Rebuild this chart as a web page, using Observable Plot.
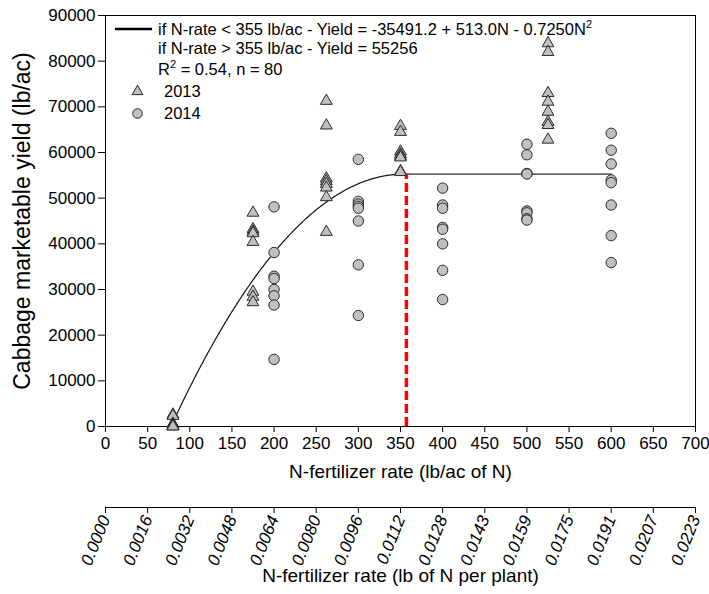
<!DOCTYPE html>
<html><head><meta charset="utf-8">
<script src="https://cdn.jsdelivr.net/npm/d3@7"></script>
<script src="https://cdn.jsdelivr.net/npm/@observablehq/plot@0.6"></script>
<style>
body{margin:0;background:#fff;}
#chart{width:709px;height:594px;}
svg text{font-family:"Liberation Sans",Arial,sans-serif;}
</style>
</head><body><div id="chart"></div>
<script>
// ---- data ----
const rates2013 = [80, 175, 262, 350, 525];
const yields2013 = [
  [2600, 2300, 600, 400, 200, 100, 0, 0],
  [46800, 43200, 42700, 42300, 40400, 29500, 28400, 27200],
  [71300, 65900, 54300, 53700, 53100, 52300, 50200, 42600],
  [65800, 64500, 60200, 59600, 59200, 58900, 55900, 55700],
  [83900, 82000, 73000, 71100, 68900, 66700, 66000, 62800]
];
const rates2014 = [200, 300, 400, 500, 600];
const yields2014 = [
  [48100, 38100, 32900, 32400, 30000, 28600, 26600, 14700],
  [58500, 49300, 48700, 48200, 47800, 45000, 35400, 24300],
  [52200, 48500, 47800, 43600, 43200, 40000, 34200, 27800],
  [61800, 59500, 55400, 55300, 47200, 46800, 45500, 45200],
  [64200, 60500, 57500, 54000, 53400, 48500, 41800, 35900]
];
const xTicks = [0, 50, 100, 150, 200, 250, 300, 350, 400, 450, 500, 550, 600, 650, 700];
const yTicks = [0, 10000, 20000, 30000, 40000, 50000, 60000, 70000, 80000, 90000];
const perPlantLabels = ["0.0000","0.0016","0.0032","0.0048","0.0064","0.0080","0.0096","0.0112","0.0128","0.0143","0.0159","0.0175","0.0191","0.0207","0.0223"];
// fitted model (from legend)
const b0 = -35491.2, b1 = 513.0, b2 = -0.7250;
const curveStart = 84, joinRate = 355, plateauEnd = 600, plateau = 55256;
const jointMarker = 357;

// ---- derived tables ----
const pts2013 = rates2013.flatMap((r, i) => yields2013[i].map(v => ({x: r, y: v})));
const pts2014 = rates2014.flatMap((r, i) => yields2014[i].map(v => ({x: r, y: v})));
const curve = d3.range(curveStart, joinRate + 0.001, 1).map(n => ({x: n, y: b0 + b1 * n + b2 * n * n}));
const plateauLine = [{x: joinRate, y: plateau}, {x: plateauEnd, y: plateau}];
const perPlant = new Map(xTicks.map((t, i) => [t, perPlantLabels[i]]));

const FONT = "Liberation Sans, Arial, sans-serif";
const fill = "#c0c0c0", stroke = "#2a2a2a";

const plot = Plot.plot({
  width: 709, height: 594,
  marginLeft: 105, marginRight: 14, marginTop: 15, marginBottom: 168,
  style: {fontFamily: FONT, color: "#000", background: "#fff"},
  x: {domain: [0, 700]},
  y: {domain: [0, 90000]},
  marks: [
    Plot.frame({stroke: "#000", strokeWidth: 1}),
    Plot.axisY({ticks: yTicks, tickFormat: d => String(d), tickSize: 7, tickPadding: 3, fontSize: 17, label: null}),
    Plot.axisX({ticks: xTicks, tickFormat: d => String(d), tickSize: 6, tickPadding: 4, fontSize: 17, label: null}),
    Plot.ruleY([0], {x1: () => 0, x2: () => 700, dy: 81, stroke: "#000"}),
    Plot.axisX({ticks: xTicks, anchor: "bottom", dy: 81, tickSize: 6, tickPadding: 3, tickRotate: -68,
      tickFormat: d => perPlant.get(d), fontSize: 17, fontStyle: "italic", label: null}),
    Plot.text(["Cabbage marketable yield (lb/ac)"], {frameAnchor: "left", textAnchor: "middle", rotate: -90, dx: -83, fontSize: 23, fill: "#000"}),
    Plot.text(["N-fertilizer rate (lb/ac of N)"], {frameAnchor: "bottom", dy: 51, fontSize: 19, fill: "#000"}),
    Plot.text(["N-fertilizer rate (lb of N per plant)"], {frameAnchor: "bottom", dy: 155, fontSize: 19, fill: "#000"}),
    Plot.line(curve, {x: "x", y: "y", stroke: "#111", strokeWidth: 1.2}),
    Plot.line(plateauLine, {x: "x", y: "y", stroke: "#666", strokeWidth: 1.6}),
    Plot.ruleX([jointMarker], {y1: () => 0, y2: () => plateau, stroke: "#ff0000", strokeWidth: 3.5, strokeDasharray: "9,4"}),
    Plot.dot(pts2013, {x: "x", y: "y", symbol: "triangle", r: 4.4, fill, stroke, strokeWidth: 1}),
    Plot.dot(pts2014, {x: "x", y: "y", r: 5.2, fill, stroke, strokeWidth: 1}),
    // legend symbols
    Plot.dot([0], {frameAnchor: "top-left", dx: 32, dy: 76, symbol: "triangle", r: 4, fill, stroke, strokeWidth: 1}),
    Plot.dot([0], {frameAnchor: "top-left", dx: 32, dy: 98, r: 4.8, fill, stroke, strokeWidth: 1})
  ]
});
document.getElementById("chart").appendChild(plot);

// ---- legend text (with superscripts) ----
const svg = d3.select(plot);
const g = svg.append("g").attr("font-family", FONT).attr("font-size", 16.5).attr("fill", "#000").attr("text-anchor", "start");
g.append("line").attr("x1", 115).attr("x2", 152).attr("y1", 29).attr("y2", 29).attr("stroke", "#000").attr("stroke-width", 2.5);
const l1 = g.append("text").attr("x", 158).attr("y", 35);
l1.append("tspan").text("if N-rate < 355 lb/ac - Yield = -35491.2 + 513.0N - 0.7250N");
l1.append("tspan").attr("font-size", 11).attr("dy", -7).text("2");
g.append("text").attr("x", 158).attr("y", 54).text("if N-rate > 355 lb/ac - Yield = 55256");
const l3 = g.append("text").attr("x", 158).attr("y", 75);
l3.append("tspan").text("R");
l3.append("tspan").attr("font-size", 11).attr("dy", -7).text("2");
l3.append("tspan").attr("dy", 7).text(" = 0.54, n = 80");
g.append("text").attr("x", 164).attr("y", 97).text("2013");
g.append("text").attr("x", 164).attr("y", 119).text("2014");
</script>
</body></html>
